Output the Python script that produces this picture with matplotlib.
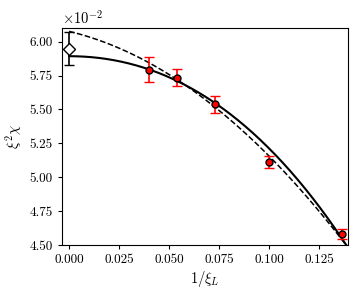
import numpy as np
import matplotlib
matplotlib.use("Agg")
import matplotlib.pyplot as plt
from matplotlib.ticker import FuncFormatter, FormatStrFormatter

plt.rcParams['font.family'] = 'serif'
plt.rcParams['font.serif'] = ['cmr10']
plt.rcParams['mathtext.fontset'] = 'cm'
plt.rcParams['axes.formatter.use_mathtext'] = True
plt.rcParams['axes.unicode_minus'] = False

# data points (y in units of 1e-2)
x_pts = [0.040, 0.054, 0.0727, 0.100, 0.1364]
y_pts = [5.794, 5.733, 5.537, 5.115, 4.583]
y_err = [0.090, 0.063, 0.060, 0.045, 0.035]

# extrapolated value at 1/xi_L = 0
x_ext = [0.0]
y_ext = [5.949]
e_ext = [0.120]

# fit curves: coefficients (highest power first), y in units of 1e-2
fit_solid = [-116.4, -56.44, 0.0, 5.893]   # cubic without linear term
fit_dashed = [-56.7, -3.53, 6.076]         # quadratic

scale = 1e-2

fig = plt.figure(figsize=(3.64, 2.96), dpi=100)
ax = fig.add_axes([0.170, 0.172, 0.786, 0.733])

xx = np.linspace(0.0, 0.1394, 300)
ax.plot(xx, np.polyval(fit_solid, xx) * scale, color='black', lw=1.5, zorder=2)
ax.plot(xx, np.polyval(fit_dashed, xx) * scale, color='black', lw=1.1, ls='--', zorder=2)

ax.errorbar(x_pts, np.array(y_pts) * scale, yerr=np.array(y_err) * scale, fmt='o',
            color='red', mfc='red', mec='black', ms=5, mew=1.0, ecolor='red',
            elinewidth=1.2, capsize=3.5, capthick=1.2, zorder=3)
ax.errorbar(x_ext, np.array(y_ext) * scale, yerr=np.array(e_ext) * scale, fmt='D',
            color='black', mfc='white', mec='black', ms=6, mew=1.0, ecolor='black',
            elinewidth=1.2, capsize=3.5, capthick=1.2, zorder=3)

ax.set_xlim(-0.0036, 0.1394)
ax.set_ylim(0.045, 0.061)
ax.set_xticks([0.0, 0.025, 0.05, 0.075, 0.1, 0.125])
ax.set_yticks([0.045, 0.0475, 0.05, 0.0525, 0.055, 0.0575, 0.06])

ax.yaxis.set_major_formatter(FuncFormatter(lambda v, p: '%.2f' % (v / scale)))
ax.xaxis.set_major_formatter(FormatStrFormatter('%.3f'))

ax.tick_params(labelsize=9.5, length=3)
ax.set_xlabel(r'$1/\xi_L$', fontsize=10.5, labelpad=2)
ax.set_ylabel(r'$\xi^2\chi$', fontsize=10.5, labelpad=4)
ax.text(0.0, 1.008, r'$\times10^{-2}$', transform=ax.transAxes, fontsize=10.5,
        va='bottom', ha='left')

fig.savefig('out.png', dpi=100)
